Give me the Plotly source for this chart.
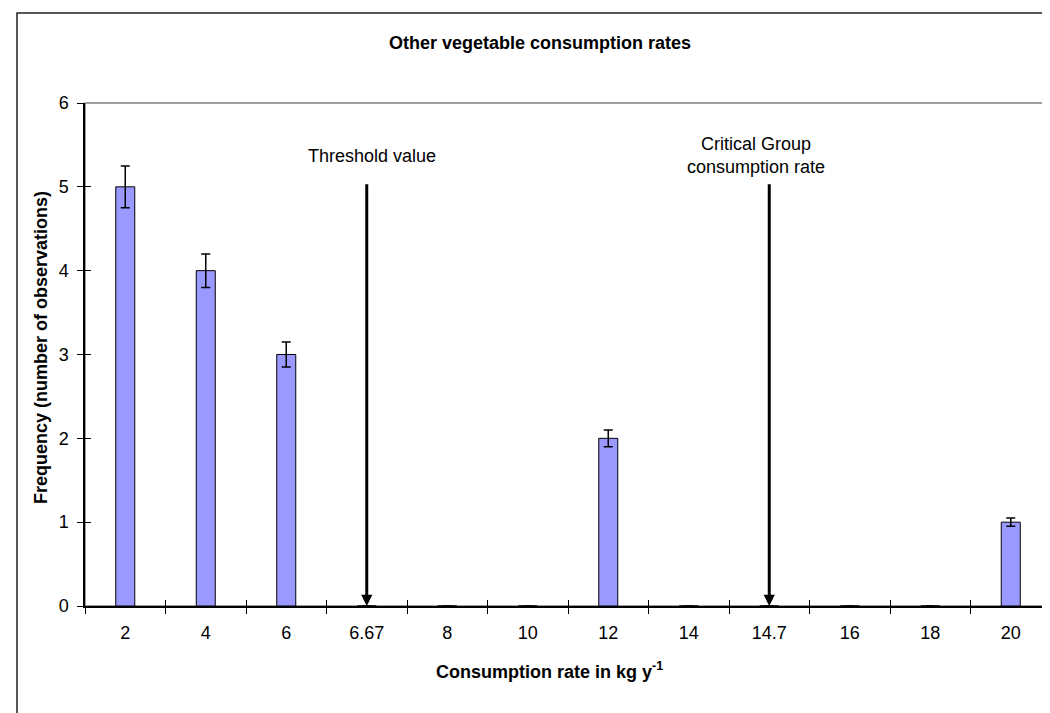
import plotly.graph_objects as go

# ---- data ----
categories = ["2", "4", "6", "6.67", "8", "10", "12", "14", "14.7", "16", "18", "20"]
frequency = [5, 4, 3, 0, 0, 0, 2, 0, 0, 0, 0, 1]
error_values = [0.25, 0.2, 0.15, 0, 0, 0, 0.1, 0, 0, 0, 0, 0.05]
y_ticks = [0, 1, 2, 3, 4, 5, 6]
marker_categories = ["6.67", "14.7"]
marker_labels = ["Threshold value", "Critical Group<br>consumption rate"]

# ---- layout constants (pixels) ----
W, H = 1050, 713
PL, PR, PT, PB = 77, 1043, 95, 598
pw, ph = PR - PL, PB - PT
FONT = "Liberation Sans, Arial, sans-serif"
FS = 18

def px_x(x):
    return (x - PL) / pw

def px_y(y):
    return (PB - y) / ph

fig = go.Figure()
fig.add_trace(go.Bar(
    x=categories, y=frequency,
    marker=dict(color="#9999FF", line=dict(color="black", width=1)),
    error_y=dict(type="data", array=error_values, visible=True,
                 color="black", thickness=1.5, width=4.5),
    showlegend=False, hoverinfo="x+y",
))
# helper trace so the overlay axes (inside tick halves) are drawn
fig.add_trace(go.Scatter(x=[None], y=[None], xaxis="x2", yaxis="y2",
                         showlegend=False, hoverinfo="skip"))

arrow_top = 5.05
label_y = 5.37
label_shift = [5, -13]
annotations = []
for cat, lab, sh in zip(marker_categories, marker_labels, label_shift):
    pos = categories.index(cat)  # category slot on the linear overlay axis
    annotations.append(dict(
        x=pos, y=0, xref="x2", yref="y", ax=pos, ay=arrow_top, axref="x2", ayref="y",
        text="", showarrow=True, arrowhead=2, arrowsize=0.75, arrowwidth=3,
        arrowcolor="black"))
    annotations.append(dict(
        x=pos, y=label_y, xref="x2", yref="y", text=lab, showarrow=False,
        xshift=sh, font=dict(family=FONT, size=FS, color="black"),
        xanchor="center", yanchor="middle", align="center"))

annotations.append(dict(
    x=px_x(541), y=px_y(662), xref="paper", yref="paper",
    text="<b>Consumption rate in kg y<sup>-1</sup></b>", showarrow=False,
    font=dict(family=FONT, size=FS, color="black"), xanchor="center", yanchor="middle"))
annotations.append(dict(
    x=px_x(33), y=px_y(340), xref="paper", yref="paper", textangle=-90,
    text="<b>Frequency (number of observations)</b>", showarrow=False,
    font=dict(family=FONT, size=FS, color="black"), xanchor="center", yanchor="middle"))

shapes = [
    # plot area border (grey)
    dict(type="rect", xref="paper", yref="paper", x0=0, x1=1, y0=0, y1=1,
         line=dict(color="#808080", width=1.5), layer="below"),
    # chart area border
    dict(type="rect", xref="paper", yref="paper",
         x0=px_x(9), x1=px_x(1058), y0=px_y(730), y1=px_y(5),
         line=dict(color="#222222", width=1.5), layer="below"),
]

axis_common = dict(showgrid=False, zeroline=False)
fig.update_layout(
    width=W, height=H,
    margin=dict(l=PL, r=W - PR, t=PT, b=H - PB, pad=0),
    paper_bgcolor="white", plot_bgcolor="white",
    font=dict(family=FONT, size=FS, color="black"),
    bargap=0.764,
    title=dict(text="<b>Other vegetable consumption rates</b>",
               font=dict(family=FONT, size=FS, color="black"),
               x=532 / W, xref="container", xanchor="center",
               y=1 - 35 / H, yref="container", yanchor="middle"),
    xaxis=dict(type="category", categoryorder="array", categoryarray=categories,
               range=[-0.5, len(categories) - 0.5], showline=True, linecolor="black",
               linewidth=1.5, ticks="outside", ticklen=6, tickwidth=1, tickcolor="black",
               tickson="boundaries", ticklabelstandoff=10,
               tickfont=dict(family=FONT, size=FS, color="black"), **axis_common),
    xaxis2=dict(overlaying="x", anchor="y", side="bottom", range=[-0.5, len(categories) - 0.5],
                tickmode="linear", tick0=-0.5, dtick=1, ticks="inside", ticklen=6,
                tickwidth=1, tickcolor="black", showticklabels=False, showline=False,
                **axis_common),
    yaxis=dict(range=[y_ticks[0], y_ticks[-1]], tickmode="array", tickvals=y_ticks,
               showline=True, linecolor="black", linewidth=1.5, ticks="outside",
               ticklen=6, tickwidth=1, tickcolor="black", ticklabelstandoff=5,
               tickfont=dict(family=FONT, size=FS, color="black"), **axis_common),
    yaxis2=dict(overlaying="y", anchor="x", side="left", range=[y_ticks[0], y_ticks[-1]],
                tickmode="array", tickvals=y_ticks, ticks="inside", ticklen=6, tickwidth=1,
                tickcolor="black", showticklabels=False, showline=False, **axis_common),
    annotations=annotations,
    shapes=shapes,
)

fig.write_html("out.html")
